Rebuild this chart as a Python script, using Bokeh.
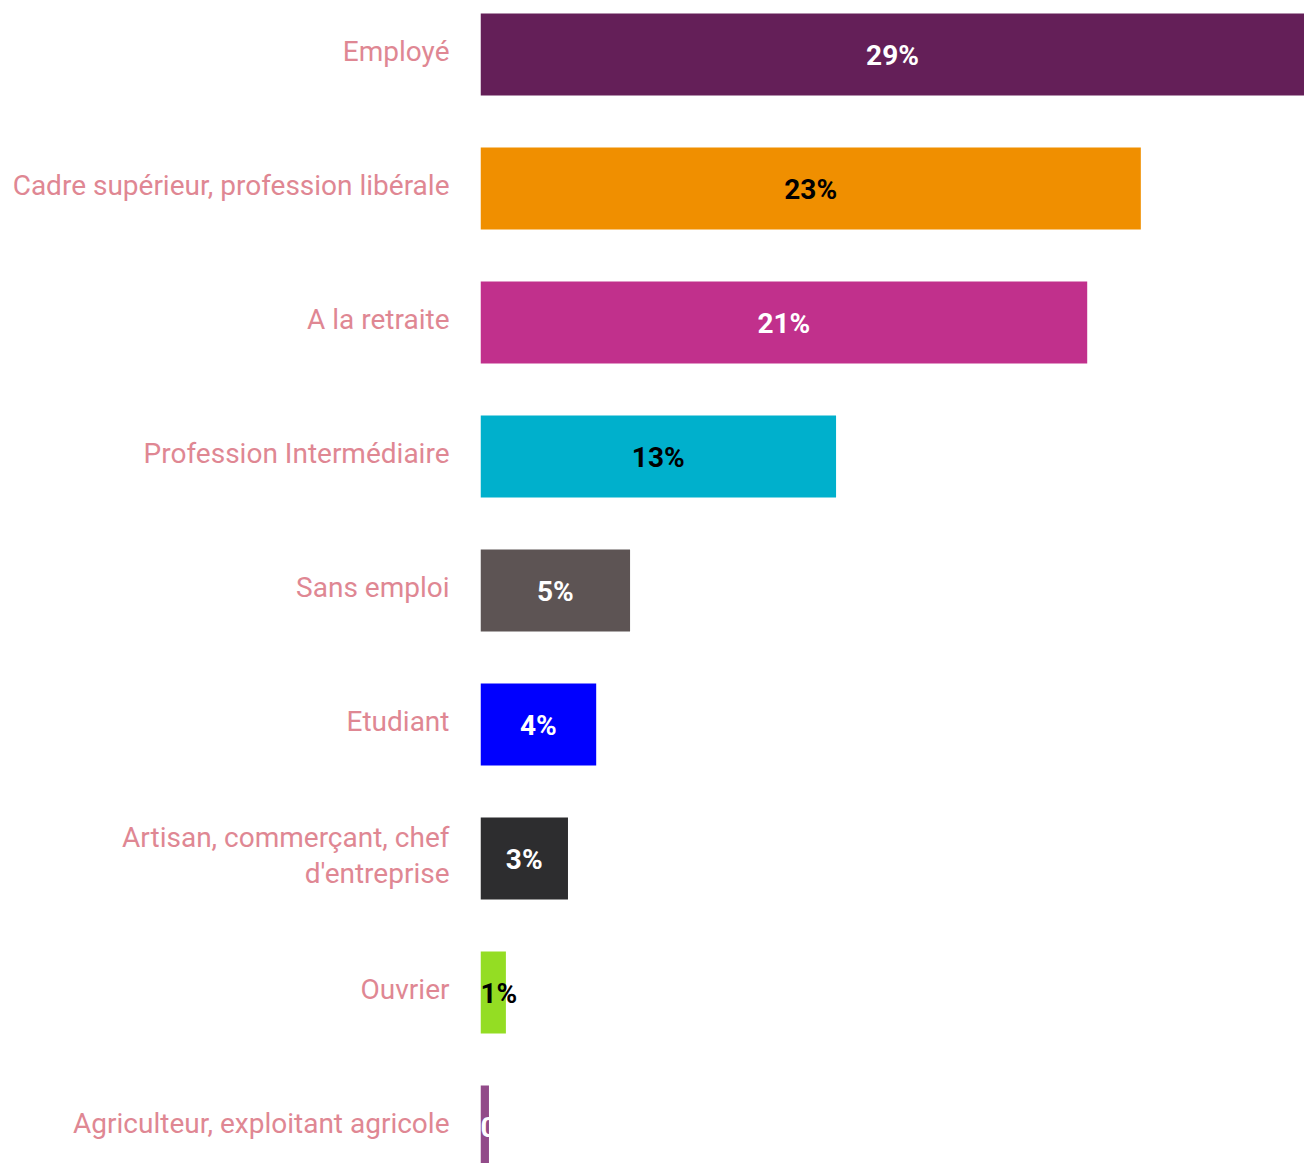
from bokeh.plotting import figure
from bokeh.models import ColumnDataSource, Range1d, FixedTicker
from bokeh.core.properties import value
from bokeh.embed import file_html
from bokeh.resources import INLINE

categories = ["Employé", "Cadre supérieur, profession libérale", "A la retraite",
              "Profession Intermédiaire", "Sans emploi", "Etudiant",
              "Artisan, commerçant, chef\nd'entreprise", "Ouvrier",
              "Agriculteur, exploitant agricole"]
values = [29.2, 23.4, 21.5, 12.6, 5.3, 4.1, 3.1, 0.9, 0.3]
labels = ["29%", "23%", "21%", "13%", "5%", "4%", "3%", "1%", "0%"]
colors = ["#641f58", "#f08f00", "#c1308c", "#00b0cc", "#5d5454",
          "#0000ff", "#2d2d2f", "#94dd23", "#924b89"]
label_colors = ["white", "black", "white", "black", "white",
                "white", "white", "black", "white"]

pos = list(range(len(categories)))
small = [v < 1.5 for v in values]
src = ColumnDataSource(dict(
    y=pos, v=values,
    tx=[0 if s else v / 2 for v, s in zip(values, small)],
    al=["left" if s else "center" for s in small],
    lab=labels, col=colors, lcol=label_colors,
))

p = figure(width=1304, height=1163, output_backend="svg", toolbar_location=None,
           x_range=Range1d(0, max(values)), y_range=Range1d(8.276, -0.403),
           min_border_left=480, min_border_right=0, min_border_top=0,
           min_border_bottom=0, outline_line_color=None)

p.hbar(y="y", left=0, right="v", height=0.612, fill_color="col",
       line_color=None, source=src)
p.text(x="tx", y="y", text="lab", text_color="lcol", text_align="al",
       text_baseline="middle", text_font=value("Roboto"), text_font_style="bold",
       text_font_size="28px", y_offset=1, source=src)

p.xaxis.visible = False
p.xgrid.visible = False
p.ygrid.visible = False
ya = p.yaxis[0]
shift = 0.0225  # label sits slightly above bar centre
tick_pos = [i - shift for i in pos]
ya.ticker = FixedTicker(ticks=tick_pos)
ya.major_label_overrides = {t: c for t, c in zip(tick_pos, categories)}
ya.axis_line_color = None
ya.major_tick_line_color = None
ya.minor_tick_line_color = None
ya.major_label_standoff = 25
ya.major_label_text_font = "Roboto"
ya.major_label_text_font_size = "28px"
ya.major_label_text_line_height = 1.1
ya.major_label_text_color = "#df8793"

open("out.html", "w").write(file_html(p, INLINE))
